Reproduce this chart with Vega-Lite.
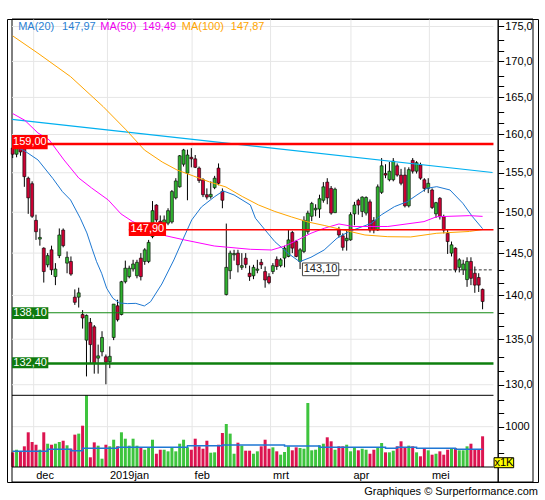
{
  "$schema": "https://vega.github.io/schema/vega-lite/v6.json",
  "width": 531,
  "height": 463,
  "autosize": {"type": "none"},
  "padding": {"left": 7, "top": 19, "right": 7, "bottom": 18},
  "background": "white",
  "config": {
    "view": {"stroke": "#000", "strokeWidth": 1},
    "font": "Liberation Sans",
    "text": {"font": "Liberation Sans", "fontSize": 11}
  },
  "title": {"text": "Graphiques © Surperformance.com", "orient": "bottom", "anchor": "end", "fontSize": 11, "fontWeight": "normal", "font": "Liberation Sans", "color": "#000", "offset": 3},
  "datasets": {
    "candles": [
      {"i":0,"o":158.2,"h":158.8,"l":156.9,"c":157.4,"v":519},
      {"i":1,"o":157.4,"h":158.7,"l":157.0,"c":158.2,"v":568},
      {"i":2,"o":158.4,"h":158.9,"l":157.2,"c":157.7,"v":538},
      {"i":3,"o":158.2,"h":158.6,"l":153.2,"c":154.5,"v":632},
      {"i":4,"o":154.3,"h":154.5,"l":149.8,"c":151.8,"v":895},
      {"i":5,"o":153.6,"h":153.9,"l":149.3,"c":149.5,"v":713},
      {"i":6,"o":149.0,"h":149.7,"l":146.6,"c":147.6,"v":662},
      {"i":7,"o":146.7,"h":148.0,"l":145.9,"c":146.9,"v":568},
      {"i":8,"o":145.6,"h":145.7,"l":141.5,"c":142.8,"v":895},
      {"i":9,"o":143.6,"h":145.0,"l":143.3,"c":144.7,"v":681},
      {"i":10,"o":145.4,"h":145.9,"l":142.4,"c":143.0,"v":662},
      {"i":11,"o":142.2,"h":143.8,"l":141.2,"c":143.1,"v":681},
      {"i":12,"o":144.7,"h":148.0,"l":144.4,"c":147.2,"v":713},
      {"i":13,"o":147.8,"h":148.0,"l":145.7,"c":145.9,"v":737},
      {"i":14,"o":143.8,"h":145.2,"l":142.6,"c":144.5,"v":651},
      {"i":15,"o":144.0,"h":144.6,"l":142.3,"c":142.5,"v":587},
      {"i":16,"o":139.8,"h":140.7,"l":138.9,"c":139.2,"v":851},
      {"i":17,"o":139.8,"h":140.9,"l":138.6,"c":140.3,"v":870},
      {"i":18,"o":137.8,"h":138.3,"l":136.2,"c":137.4,"v":1019},
      {"i":19,"o":134.9,"h":137.8,"l":130.9,"c":137.7,"v":1589},
      {"i":20,"o":136.9,"h":137.4,"l":132.3,"c":134.4,"v":426},
      {"i":21,"o":136.4,"h":136.6,"l":131.2,"c":132.3,"v":706},
      {"i":22,"o":132.9,"h":134.4,"l":131.2,"c":133.15,"v":644},
      {"i":23,"o":133.6,"h":135.9,"l":133.1,"c":135.2,"v":400},
      {"i":24,"o":133.05,"h":133.3,"l":130.05,"c":132.45,"v":662},
      {"i":25,"o":132.5,"h":134.2,"l":131.8,"c":133.1,"v":632},
      {"i":26,"o":135.2,"h":139.0,"l":134.9,"c":139.0,"v":756},
      {"i":27,"o":138.8,"h":139.5,"l":137.0,"c":137.2,"v":632},
      {"i":28,"o":137.8,"h":141.7,"l":137.7,"c":141.6,"v":895},
      {"i":29,"o":141.6,"h":144.1,"l":141.4,"c":143.2,"v":775},
      {"i":30,"o":142.2,"h":143.5,"l":142.0,"c":143.2,"v":644},
      {"i":31,"o":143.1,"h":144.2,"l":142.8,"c":143.7,"v":775},
      {"i":32,"o":142.3,"h":144.2,"l":142.0,"c":143.9,"v":644},
      {"i":33,"o":144.4,"h":145.0,"l":141.75,"c":142.2,"v":613},
      {"i":34,"o":144.0,"h":145.6,"l":143.6,"c":145.4,"v":568},
      {"i":35,"o":144.0,"h":146.6,"l":143.8,"c":146.3,"v":613},
      {"i":36,"o":147.0,"h":151.4,"l":146.8,"c":150.2,"v":756},
      {"i":37,"o":150.9,"h":151.0,"l":148.8,"c":149.05,"v":493},
      {"i":38,"o":148.9,"h":149.6,"l":148.4,"c":148.6,"v":568},
      {"i":39,"o":148.55,"h":149.6,"l":148.4,"c":149.05,"v":568},
      {"i":40,"o":148.65,"h":150.5,"l":148.4,"c":150.2,"v":538},
      {"i":41,"o":148.8,"h":152.8,"l":148.6,"c":152.6,"v":613},
      {"i":42,"o":151.8,"h":154.3,"l":151.6,"c":153.95,"v":538},
      {"i":43,"o":153.2,"h":157.3,"l":153.1,"c":157.2,"v":681},
      {"i":44,"o":156.1,"h":158.1,"l":155.8,"c":157.96,"v":756},
      {"i":45,"o":154.95,"h":158.0,"l":151.5,"c":157.3,"v":613},
      {"i":46,"o":157.0,"h":158.2,"l":155.7,"c":156.8,"v":568},
      {"i":47,"o":156.8,"h":157.3,"l":155.6,"c":155.7,"v":775},
      {"i":48,"o":155.6,"h":155.8,"l":153.7,"c":154.0,"v":632},
      {"i":49,"o":154.1,"h":154.3,"l":151.9,"c":152.2,"v":587},
      {"i":50,"o":152.2,"h":153.0,"l":151.6,"c":151.9,"v":737},
      {"i":51,"o":151.95,"h":153.9,"l":151.7,"c":152.25,"v":512},
      {"i":52,"o":153.1,"h":154.6,"l":152.9,"c":154.3,"v":519},
      {"i":53,"o":155.6,"h":156.2,"l":153.4,"c":153.65,"v":662},
      {"i":54,"o":152.6,"h":153.0,"l":150.5,"c":151.5,"v":882},
      {"i":55,"o":140.1,"h":148.6,"l":140.0,"c":143.3,"v":1051},
      {"i":56,"o":142.9,"h":145.3,"l":141.9,"c":145.0,"v":870},
      {"i":57,"o":144.8,"h":145.4,"l":144.1,"c":144.95,"v":493},
      {"i":58,"o":145.0,"h":145.4,"l":142.7,"c":143.6,"v":700},
      {"i":59,"o":143.3,"h":145.0,"l":143.0,"c":143.5,"v":644},
      {"i":60,"o":144.4,"h":145.0,"l":143.2,"c":143.65,"v":550},
      {"i":61,"o":142.6,"h":143.5,"l":141.7,"c":142.2,"v":550},
      {"i":62,"o":142.3,"h":143.6,"l":141.9,"c":143.3,"v":493},
      {"i":63,"o":142.95,"h":144.2,"l":142.6,"c":143.1,"v":538},
      {"i":64,"o":143.9,"h":144.3,"l":143.1,"c":143.6,"v":632},
      {"i":65,"o":142.8,"h":143.4,"l":140.9,"c":141.8,"v":756},
      {"i":66,"o":142.2,"h":142.6,"l":141.3,"c":141.5,"v":587},
      {"i":67,"o":142.8,"h":143.8,"l":142.5,"c":143.5,"v":613},
      {"i":68,"o":144.25,"h":144.6,"l":143.0,"c":143.4,"v":538},
      {"i":69,"o":143.5,"h":144.4,"l":143.3,"c":144.2,"v":475},
      {"i":70,"o":144.4,"h":145.9,"l":143.3,"c":145.6,"v":525},
      {"i":71,"o":144.6,"h":147.9,"l":144.5,"c":146.6,"v":632},
      {"i":72,"o":147.5,"h":147.7,"l":145.0,"c":145.6,"v":557},
      {"i":73,"o":146.4,"h":146.6,"l":144.5,"c":144.6,"v":613},
      {"i":74,"o":144.0,"h":145.6,"l":143.1,"c":145.4,"v":600},
      {"i":75,"o":145.2,"h":149.5,"l":145.0,"c":149.0,"v":587},
      {"i":76,"o":147.6,"h":150.2,"l":147.3,"c":149.9,"v":1445},
      {"i":77,"o":149.5,"h":151.3,"l":148.9,"c":151.1,"v":557},
      {"i":78,"o":150.3,"h":151.0,"l":149.5,"c":150.5,"v":568},
      {"i":79,"o":150.4,"h":152.2,"l":149.3,"c":151.7,"v":651},
      {"i":80,"o":151.5,"h":153.8,"l":151.2,"c":153.2,"v":681},
      {"i":81,"o":153.8,"h":154.3,"l":151.0,"c":151.8,"v":801},
      {"i":82,"o":153.0,"h":153.3,"l":149.7,"c":149.9,"v":726},
      {"i":83,"o":149.95,"h":153.1,"l":149.9,"c":152.9,"v":568},
      {"i":84,"o":147.8,"h":148.2,"l":146.9,"c":147.2,"v":632},
      {"i":85,"o":147.1,"h":147.4,"l":145.3,"c":145.7,"v":632},
      {"i":86,"o":146.5,"h":147.8,"l":145.3,"c":146.8,"v":662},
      {"i":87,"o":146.6,"h":150.0,"l":146.5,"c":149.7,"v":538},
      {"i":88,"o":149.8,"h":151.3,"l":148.4,"c":150.9,"v":600},
      {"i":89,"o":151.5,"h":151.7,"l":149.7,"c":150.9,"v":557},
      {"i":90,"o":150.1,"h":152.0,"l":149.4,"c":151.9,"v":587},
      {"i":91,"o":149.9,"h":152.0,"l":149.6,"c":151.85,"v":568},
      {"i":92,"o":151.3,"h":151.6,"l":147.5,"c":147.8,"v":493},
      {"i":93,"o":149.0,"h":149.4,"l":147.4,"c":147.8,"v":568},
      {"i":94,"o":147.8,"h":153.5,"l":147.7,"c":153.2,"v":600},
      {"i":95,"o":152.5,"h":156.9,"l":152.3,"c":155.9,"v":694},
      {"i":96,"o":154.9,"h":156.1,"l":154.3,"c":154.7,"v":519},
      {"i":97,"o":154.1,"h":156.4,"l":153.9,"c":155.2,"v":519},
      {"i":98,"o":154.1,"h":156.9,"l":153.9,"c":156.5,"v":550},
      {"i":99,"o":155.9,"h":156.2,"l":154.5,"c":154.7,"v":632},
      {"i":100,"o":154.7,"h":155.5,"l":153.4,"c":153.65,"v":726},
      {"i":101,"o":154.7,"h":155.7,"l":150.6,"c":150.8,"v":613},
      {"i":102,"o":150.8,"h":155.7,"l":150.6,"c":155.4,"v":644},
      {"i":103,"o":156.6,"h":156.9,"l":154.9,"c":155.2,"v":632},
      {"i":104,"o":155.2,"h":156.5,"l":154.9,"c":156.3,"v":519},
      {"i":105,"o":156.0,"h":156.3,"l":154.1,"c":154.3,"v":445},
      {"i":106,"o":154.1,"h":154.3,"l":152.6,"c":153.0,"v":600},
      {"i":107,"o":153.0,"h":154.3,"l":152.4,"c":153.65,"v":557},
      {"i":108,"o":152.8,"h":153.0,"l":150.4,"c":150.6,"v":475},
      {"i":109,"o":149.8,"h":151.3,"l":149.3,"c":151.2,"v":493},
      {"i":110,"o":151.75,"h":151.9,"l":149.1,"c":149.45,"v":538},
      {"i":111,"o":149.45,"h":149.7,"l":147.4,"c":147.8,"v":475},
      {"i":112,"o":147.4,"h":147.9,"l":144.9,"c":146.4,"v":568},
      {"i":113,"o":145.0,"h":146.4,"l":144.6,"c":146.0,"v":600},
      {"i":114,"o":145.6,"h":145.7,"l":142.7,"c":143.0,"v":600},
      {"i":115,"o":143.3,"h":144.4,"l":142.7,"c":144.2,"v":557},
      {"i":116,"o":143.0,"h":144.2,"l":142.4,"c":143.7,"v":557},
      {"i":117,"o":141.85,"h":144.5,"l":141.0,"c":144.0,"v":632},
      {"i":118,"o":144.0,"h":144.5,"l":141.2,"c":142.0,"v":681},
      {"i":119,"o":142.6,"h":143.4,"l":140.3,"c":141.2,"v":568},
      {"i":120,"o":142.1,"h":142.6,"l":140.4,"c":141.2,"v":568},
      {"i":121,"o":140.7,"h":140.8,"l":138.4,"c":139.3,"v":820}
    ],
    "ma": [
      {"s":"MA20","i":0,"p":158.36},{"s":"MA20","i":2.7,"p":157.96},{"s":"MA20","i":6.5,"p":156.66},{"s":"MA20","i":10.3,"p":154.29},
      {"s":"MA20","i":12.8,"p":152.59},{"s":"MA20","i":14.9,"p":151.54},{"s":"MA20","i":17.4,"p":149.26},{"s":"MA20","i":19.1,"p":147.45},
      {"s":"MA20","i":20.4,"p":145.59},{"s":"MA20","i":21.6,"p":143.97},{"s":"MA20","i":22.9,"p":142.59},{"s":"MA20","i":24.2,"p":140.83},
      {"s":"MA20","i":25.8,"p":139.67},{"s":"MA20","i":27.5,"p":139.12},{"s":"MA20","i":29.6,"p":139.05},{"s":"MA20","i":31.7,"p":139.08},
      {"s":"MA20","i":33.9,"p":138.78},{"s":"MA20","i":35.5,"p":139.27},{"s":"MA20","i":38.4,"p":141.33},{"s":"MA20","i":41.5,"p":144.18},
      {"s":"MA20","i":44,"p":146.83},{"s":"MA20","i":46.1,"p":149.05},{"s":"MA20","i":48.6,"p":150.66},{"s":"MA20","i":51.9,"p":151.92},
      {"s":"MA20","i":54.2,"p":152.68},{"s":"MA20","i":57,"p":152.17},{"s":"MA20","i":61.2,"p":150.91},{"s":"MA20","i":62.5,"p":149.26},
      {"s":"MA20","i":65,"p":147.81},{"s":"MA20","i":67.5,"p":146.39},{"s":"MA20","i":70.9,"p":144.98},{"s":"MA20","i":73.9,"p":143.97},
      {"s":"MA20","i":76.8,"p":144.5},{"s":"MA20","i":80.2,"p":145.38},{"s":"MA20","i":83.5,"p":146.8},{"s":"MA20","i":86.5,"p":147.6},
      {"s":"MA20","i":92.4,"p":148.64},{"s":"MA20","i":94.9,"p":149.67},{"s":"MA20","i":98.3,"p":150.7},{"s":"MA20","i":101.6,"p":151.33},
      {"s":"MA20","i":104.1,"p":152.17},{"s":"MA20","i":106.7,"p":153.02},{"s":"MA20","i":109.2,"p":153.22},{"s":"MA20","i":112.6,"p":152.8},
      {"s":"MA20","i":115.9,"p":151.13},{"s":"MA20","i":118.4,"p":149.45},{"s":"MA20","i":121,"p":147.97},
      {"s":"MA50","i":0,"p":162.8},{"s":"MA50","i":3.1,"p":161.9},{"s":"MA50","i":6.5,"p":160.2},{"s":"MA50","i":9.4,"p":159.28},
      {"s":"MA50","i":13.2,"p":156.66},{"s":"MA50","i":17,"p":154.33},{"s":"MA50","i":20.3,"p":153.06},{"s":"MA50","i":24.6,"p":151.54},
      {"s":"MA50","i":27.9,"p":149.79},{"s":"MA50","i":30.9,"p":148.84},{"s":"MA50","i":38.5,"p":147.2},{"s":"MA50","i":44.3,"p":146.59},
      {"s":"MA50","i":51.9,"p":145.86},{"s":"MA50","i":61.2,"p":145.46},{"s":"MA50","i":66.7,"p":145.38},{"s":"MA50","i":70.1,"p":145.86},
      {"s":"MA50","i":73.4,"p":146.59},{"s":"MA50","i":76.8,"p":147.41},{"s":"MA50","i":80.2,"p":148.02},{"s":"MA50","i":84,"p":148.55},
      {"s":"MA50","i":87.7,"p":148.24},{"s":"MA50","i":96.6,"p":148.24},{"s":"MA50","i":105.9,"p":148.84},{"s":"MA50","i":109.2,"p":149.45},
      {"s":"MA50","i":117.6,"p":149.58},{"s":"MA50","i":121,"p":149.49},
      {"s":"MA100","i":0,"p":173.64},{"s":"MA100","i":6.5,"p":171.16},{"s":"MA100","i":14.9,"p":167.87},{"s":"MA100","i":23.3,"p":163.74},
      {"s":"MA100","i":29.2,"p":160.61},{"s":"MA100","i":33.9,"p":157.96},{"s":"MA100","i":38.5,"p":156.39},{"s":"MA100","i":42.3,"p":155.36},
      {"s":"MA100","i":46.5,"p":154.59},{"s":"MA100","i":50.7,"p":153.82},{"s":"MA100","i":54.9,"p":153.18},{"s":"MA100","i":59.1,"p":151.98},
      {"s":"MA100","i":63.3,"p":150.91},{"s":"MA100","i":67.5,"p":150.1},{"s":"MA100","i":71.8,"p":149.42},{"s":"MA100","i":76,"p":148.8},
      {"s":"MA100","i":80.2,"p":148.37},{"s":"MA100","i":84,"p":147.94},{"s":"MA100","i":90.7,"p":147.2},{"s":"MA100","i":96.6,"p":146.99},
      {"s":"MA100","i":102.5,"p":146.96},{"s":"MA100","i":109.2,"p":147.41},{"s":"MA100","i":117.6,"p":147.63},{"s":"MA100","i":121,"p":147.87}
    ],
    "trend": [{"i":-0.18,"p":162.03},{"i":123.55,"p":155.03}],
    "vma": [
      {"i":0,"v":540},{"i":9,"v":576},{"i":15,"v":550},{"i":18,"v":595},{"i":27,"v":614},{"i":45,"v":644},
      {"i":54,"v":657},{"i":70,"v":638},{"i":79,"v":614},{"i":96,"v":595},{"i":99,"v":614},{"i":104,"v":595},
      {"i":114,"v":576},{"i":121,"v":576}
    ],
    "months": [{"m":5.4},{"m":24.4},{"m":46.2},{"m":66.4},{"m":87.1},{"m":107.3}],
    "pgrid": [{"g":130},{"g":135},{"g":140},{"g":145},{"g":150},{"g":155},{"g":160},{"g":165},{"g":170},{"g":175}]
  },
  "layer": [
    {
      "layer": [
        {
          "data": {"name": "months"},
          "mark": {"type": "rule", "color": "#e6e6e6", "strokeWidth": 1},
          "encoding": {
            "x": {"field": "m", "type": "quantitative",
              "scale": {"domain": [-0.18, 133.98], "nice": false, "zero": false},
              "axis": {"orient": "bottom", "offset": -15, "values": [5.4, 24.4, 46.2, 66.4, 87.1, 107.3],
                "labelExpr": "datum.value < 10 ? 'dec' : datum.value < 30 ? '2019jan' : datum.value < 50 ? 'feb' : datum.value < 70 ? 'mrt' : datum.value < 90 ? 'apr' : 'mei'",
                "grid": false, "ticks": false, "domain": false, "title": null, "labelAlign": "left", "labelBaseline": "top",
                "labelPadding": 2, "labelOffset": 2, "labelFontSize": 11, "labelFont": "Liberation Sans", "labelColor": "#000",
                "labelOverlap": false, "labelBound": false, "labelFlush": false}},
            "y": {"datum": 244, "type": "quantitative"},
            "y2": {"datum": 8648}
          }
        },
        {
          "data": {"values": [{}]},
          "mark": {"type": "rule", "color": "#e6e6e6", "strokeWidth": 1},
          "encoding": {
            "x": {"datum": -0.18},
            "x2": {"datum": 123.8},
            "y": {"datum": 1000}
          }
        },
        {
          "data": {"name": "candles"},
          "mark": {"type": "bar", "size": 3},
          "encoding": {
            "x": {"field": "i", "type": "quantitative"},
            "y": {"field": "v", "type": "quantitative",
              "scale": {"domain": [-37.4, 8648.5], "nice": false, "zero": false},
              "axis": {"orient": "right", "offset": -40.3, "values": [500, 750, 1000, 1250, 1500],
                "labelExpr": "datum.value == 1000 ? '1000' : ''", "grid": false, "title": null, "tickSize": 6,
                "labelPadding": 1, "labelFontSize": 11, "labelFont": "Liberation Sans", "labelColor": "#000",
                "tickColor": "#000", "domainColor": "#000", "labelOverlap": false, "labelBound": false}},
            "y2": {"datum": 244},
            "color": {"condition": {"test": "datum.c >= datum.o", "value": "#3ec43e"}, "value": "#dc1450"}
          }
        },
        {
          "data": {"name": "vma"},
          "mark": {"type": "line", "color": "#1f77d4", "strokeWidth": 1.5, "interpolate": "step-after"},
          "encoding": {
            "x": {"field": "i", "type": "quantitative"},
            "y": {"field": "v", "type": "quantitative"}
          }
        },
        {
          "data": {"values": [{}]},
          "mark": {"type": "rule", "color": "#000", "strokeWidth": 1},
          "encoding": {"x": {"datum": -0.18}, "x2": {"datum": 123.8}, "y": {"datum": 244}}
        },
        {
          "data": {"values": [{}]},
          "mark": {"type": "rule", "color": "#000", "strokeWidth": 1},
          "encoding": {"x": {"datum": -0.18}, "x2": {"datum": 123.8}, "y": {"datum": 1589}}
        },
        {
          "data": {"values": [{}]},
          "mark": {"type": "rule", "color": "#000", "strokeWidth": 1},
          "encoding": {"x": {"datum": -0.18}, "x2": {"datum": 133.98}, "y": {"datum": 8648.5}}
        },
        {
          "data": {"values": [{}]},
          "mark": {"type": "rule", "color": "#000", "strokeWidth": 1},
          "encoding": {"x": {"datum": -0.18}, "x2": {"datum": 133.98}, "y": {"datum": -37.4}}
        },
        {
          "data": {"values": [{}]},
          "mark": {"type": "rule", "color": "#000", "strokeWidth": 1},
          "encoding": {"x": {"datum": -0.18}, "y": {"datum": -37.4}, "y2": {"datum": 8648.5}}
        },
        {
          "data": {"values": [{}]},
          "mark": {"type": "rule", "color": "#000", "strokeWidth": 1},
          "encoding": {"x": {"datum": 133.98}, "y": {"datum": -37.4}, "y2": {"datum": 8648.5}}
        },
        {
          "data": {"values": [{}]},
          "mark": {"type": "rect", "fill": "#ffff00", "stroke": "#000", "strokeWidth": 1},
          "encoding": {"x": {"datum": 123.95}, "x2": {"datum": 129.0}, "y": {"datum": 230.8}, "y2": {"datum": 418.4}}
        },
        {
          "data": {"values": [{}]},
          "mark": {"type": "text", "fontSize": 11, "color": "#000", "align": "center", "baseline": "middle"},
          "encoding": {"x": {"datum": 126.48}, "y": {"datum": 324.6}, "text": {"value": "x1K"}}
        }
      ]
    },
    {
      "layer": [
        {
          "data": {"name": "pgrid"},
          "mark": {"type": "rule", "color": "#e6e6e6", "strokeWidth": 1},
          "encoding": {
            "y": {"field": "g", "type": "quantitative",
              "scale": {"type": "log", "domain": [119.92, 176.09], "nice": false, "zero": false},
              "axis": {"orient": "right", "offset": -40.3,
                "values": [130, 131.5, 133, 135, 136.5, 138, 140, 141.5, 143, 145, 146.5, 148, 150, 151.5, 153, 155, 156.5, 158, 160, 161.5, 163, 165, 166.5, 168, 170, 171.5, 173, 175],
                "labelExpr": "datum.value % 5 == 0 ? replace(format(datum.value, '.1f'), '.', ',') : ''",
                "grid": false, "title": null, "tickSize": 6, "labelPadding": 1, "labelFontSize": 11,
                "labelFont": "Liberation Sans", "labelColor": "#000", "tickColor": "#000", "domainColor": "#000",
                "labelOverlap": false, "labelBound": false}},
            "x": {"datum": -0.18},
            "x2": {"datum": 123.8}
          }
        },
        {
          "data": {"name": "candles"},
          "mark": {"type": "rule", "color": "#000", "strokeWidth": 1},
          "encoding": {
            "x": {"field": "i", "type": "quantitative"},
            "y": {"field": "l", "type": "quantitative"},
            "y2": {"field": "h"}
          }
        },
        {
          "data": {"name": "candles"},
          "mark": {"type": "bar", "size": 3, "stroke": "#000", "strokeWidth": 0.6},
          "encoding": {
            "x": {"field": "i", "type": "quantitative"},
            "y": {"field": "o", "type": "quantitative"},
            "y2": {"field": "c"},
            "color": {"condition": {"test": "datum.c >= datum.o", "value": "#2fb12f"}, "value": "#cc0033"}
          }
        },
        {
          "data": {"name": "trend"},
          "mark": {"type": "line", "color": "#00b0f0", "strokeWidth": 1.2},
          "encoding": {
            "x": {"field": "i", "type": "quantitative"},
            "y": {"field": "p", "type": "quantitative"}
          }
        },
        {
          "data": {"name": "ma"},
          "mark": {"type": "line", "strokeWidth": 1},
          "encoding": {
            "x": {"field": "i", "type": "quantitative"},
            "y": {"field": "p", "type": "quantitative"},
            "color": {"field": "s", "type": "nominal", "legend": null,
              "scale": {"domain": ["MA20", "MA50", "MA100"], "range": ["#1e78d2", "#ff00ff", "#ffa500"]}}
          }
        },
        {
          "data": {"values": [{}]},
          "mark": {"type": "rule", "color": "#ff0000", "strokeWidth": 2.5},
          "encoding": {"x": {"datum": -0.18}, "x2": {"datum": 123.8}, "y": {"datum": 158.75}}
        },
        {
          "data": {"values": [{}]},
          "mark": {"type": "rule", "color": "#ff0000", "strokeWidth": 1.5},
          "encoding": {"x": {"datum": 29.9}, "x2": {"datum": 123.8}, "y": {"datum": 147.85}}
        },
        {
          "data": {"values": [{}]},
          "mark": {"type": "rule", "color": "#138a13", "strokeWidth": 1.2},
          "encoding": {"x": {"datum": -0.18}, "x2": {"datum": 123.8}, "y": {"datum": 138.0}}
        },
        {
          "data": {"values": [{}]},
          "mark": {"type": "rule", "color": "#0e7f0e", "strokeWidth": 2.5},
          "encoding": {"x": {"datum": -0.18}, "x2": {"datum": 123.8}, "y": {"datum": 132.3}}
        },
        {
          "data": {"values": [{}]},
          "mark": {"type": "rule", "color": "#333333", "strokeWidth": 1, "strokeDash": [3, 2]},
          "encoding": {"x": {"datum": 83.96}, "x2": {"datum": 123.8}, "y": {"datum": 143.0}}
        },
        {
          "data": {"values": [{}]},
          "mark": {"type": "rect", "fill": "#ff0000"},
          "encoding": {"x": {"datum": -0.18}, "x2": {"datum": 9.0}, "y": {"datum": 158.04}, "y2": {"datum": 159.93}}
        },
        {
          "data": {"values": [{}]},
          "mark": {"type": "text", "fontSize": 11, "color": "#fff", "align": "center", "baseline": "middle"},
          "encoding": {"x": {"datum": 4.42}, "y": {"datum": 159.0}, "text": {"value": "159,00"}}
        },
        {
          "data": {"values": [{}]},
          "mark": {"type": "rect", "fill": "#ff0000"},
          "encoding": {"x": {"datum": 29.89}, "x2": {"datum": 39.49}, "y": {"datum": 147.07}, "y2": {"datum": 148.76}}
        },
        {
          "data": {"values": [{}]},
          "mark": {"type": "text", "fontSize": 11, "color": "#fff", "align": "center", "baseline": "middle"},
          "encoding": {"x": {"datum": 34.69}, "y": {"datum": 147.91}, "text": {"value": "147,90"}}
        },
        {
          "data": {"values": [{}]},
          "mark": {"type": "rect", "fill": "#0e7a0e"},
          "encoding": {"x": {"datum": -0.18}, "x2": {"datum": 9.17}, "y": {"datum": 137.28}, "y2": {"datum": 138.62}}
        },
        {
          "data": {"values": [{}]},
          "mark": {"type": "text", "fontSize": 11, "color": "#fff", "align": "center", "baseline": "middle"},
          "encoding": {"x": {"datum": 4.5}, "y": {"datum": 137.94}, "text": {"value": "138,10"}}
        },
        {
          "data": {"values": [{}]},
          "mark": {"type": "rect", "fill": "#0e7a0e"},
          "encoding": {"x": {"datum": -0.18}, "x2": {"datum": 9.17}, "y": {"datum": 131.78}, "y2": {"datum": 132.99}}
        },
        {
          "data": {"values": [{}]},
          "mark": {"type": "text", "fontSize": 11, "color": "#fff", "align": "center", "baseline": "middle"},
          "encoding": {"x": {"datum": 4.5}, "y": {"datum": 132.38}, "text": {"value": "132,40"}}
        },
        {
          "data": {"values": [{}]},
          "mark": {"type": "rect", "fill": "#ffffff", "stroke": "#444444", "strokeWidth": 1},
          "encoding": {"x": {"datum": 74.61}, "x2": {"datum": 83.96}, "y": {"datum": 142.31}, "y2": {"datum": 143.82}}
        },
        {
          "data": {"values": [{}]},
          "mark": {"type": "text", "fontSize": 11, "color": "#222222", "align": "center", "baseline": "middle"},
          "encoding": {"x": {"datum": 79.28}, "y": {"datum": 143.05}, "text": {"value": "143,10"}}
        },
        {
          "data": {"values": [{}]},
          "mark": {"type": "text", "fontSize": 11, "color": "#2a7fd4", "align": "left", "baseline": "middle"},
          "encoding": {"x": {"datum": 1.41}, "y": {"datum": 174.94}, "text": {"value": "MA(20)"}}
        },
        {
          "data": {"values": [{}]},
          "mark": {"type": "text", "fontSize": 11, "color": "#2a7fd4", "align": "left", "baseline": "middle"},
          "encoding": {"x": {"datum": 12.71}, "y": {"datum": 174.94}, "text": {"value": "147,97"}}
        },
        {
          "data": {"values": [{}]},
          "mark": {"type": "text", "fontSize": 11, "color": "#f000f0", "align": "left", "baseline": "middle"},
          "encoding": {"x": {"datum": 22.56}, "y": {"datum": 174.94}, "text": {"value": "MA(50)"}}
        },
        {
          "data": {"values": [{}]},
          "mark": {"type": "text", "fontSize": 11, "color": "#f000f0", "align": "left", "baseline": "middle"},
          "encoding": {"x": {"datum": 33.42}, "y": {"datum": 174.94}, "text": {"value": "149,49"}}
        },
        {
          "data": {"values": [{}]},
          "mark": {"type": "text", "fontSize": 11, "color": "#ffa500", "align": "left", "baseline": "middle"},
          "encoding": {"x": {"datum": 43.53}, "y": {"datum": 174.94}, "text": {"value": "MA(100)"}}
        },
        {
          "data": {"values": [{}]},
          "mark": {"type": "text", "fontSize": 11, "color": "#ffa500", "align": "left", "baseline": "middle"},
          "encoding": {"x": {"datum": 56.16}, "y": {"datum": 174.94}, "text": {"value": "147,87"}}
        }
      ]
    }
  ],
  "resolve": {"scale": {"y": "independent"}, "axis": {"y": "independent"}}
}
